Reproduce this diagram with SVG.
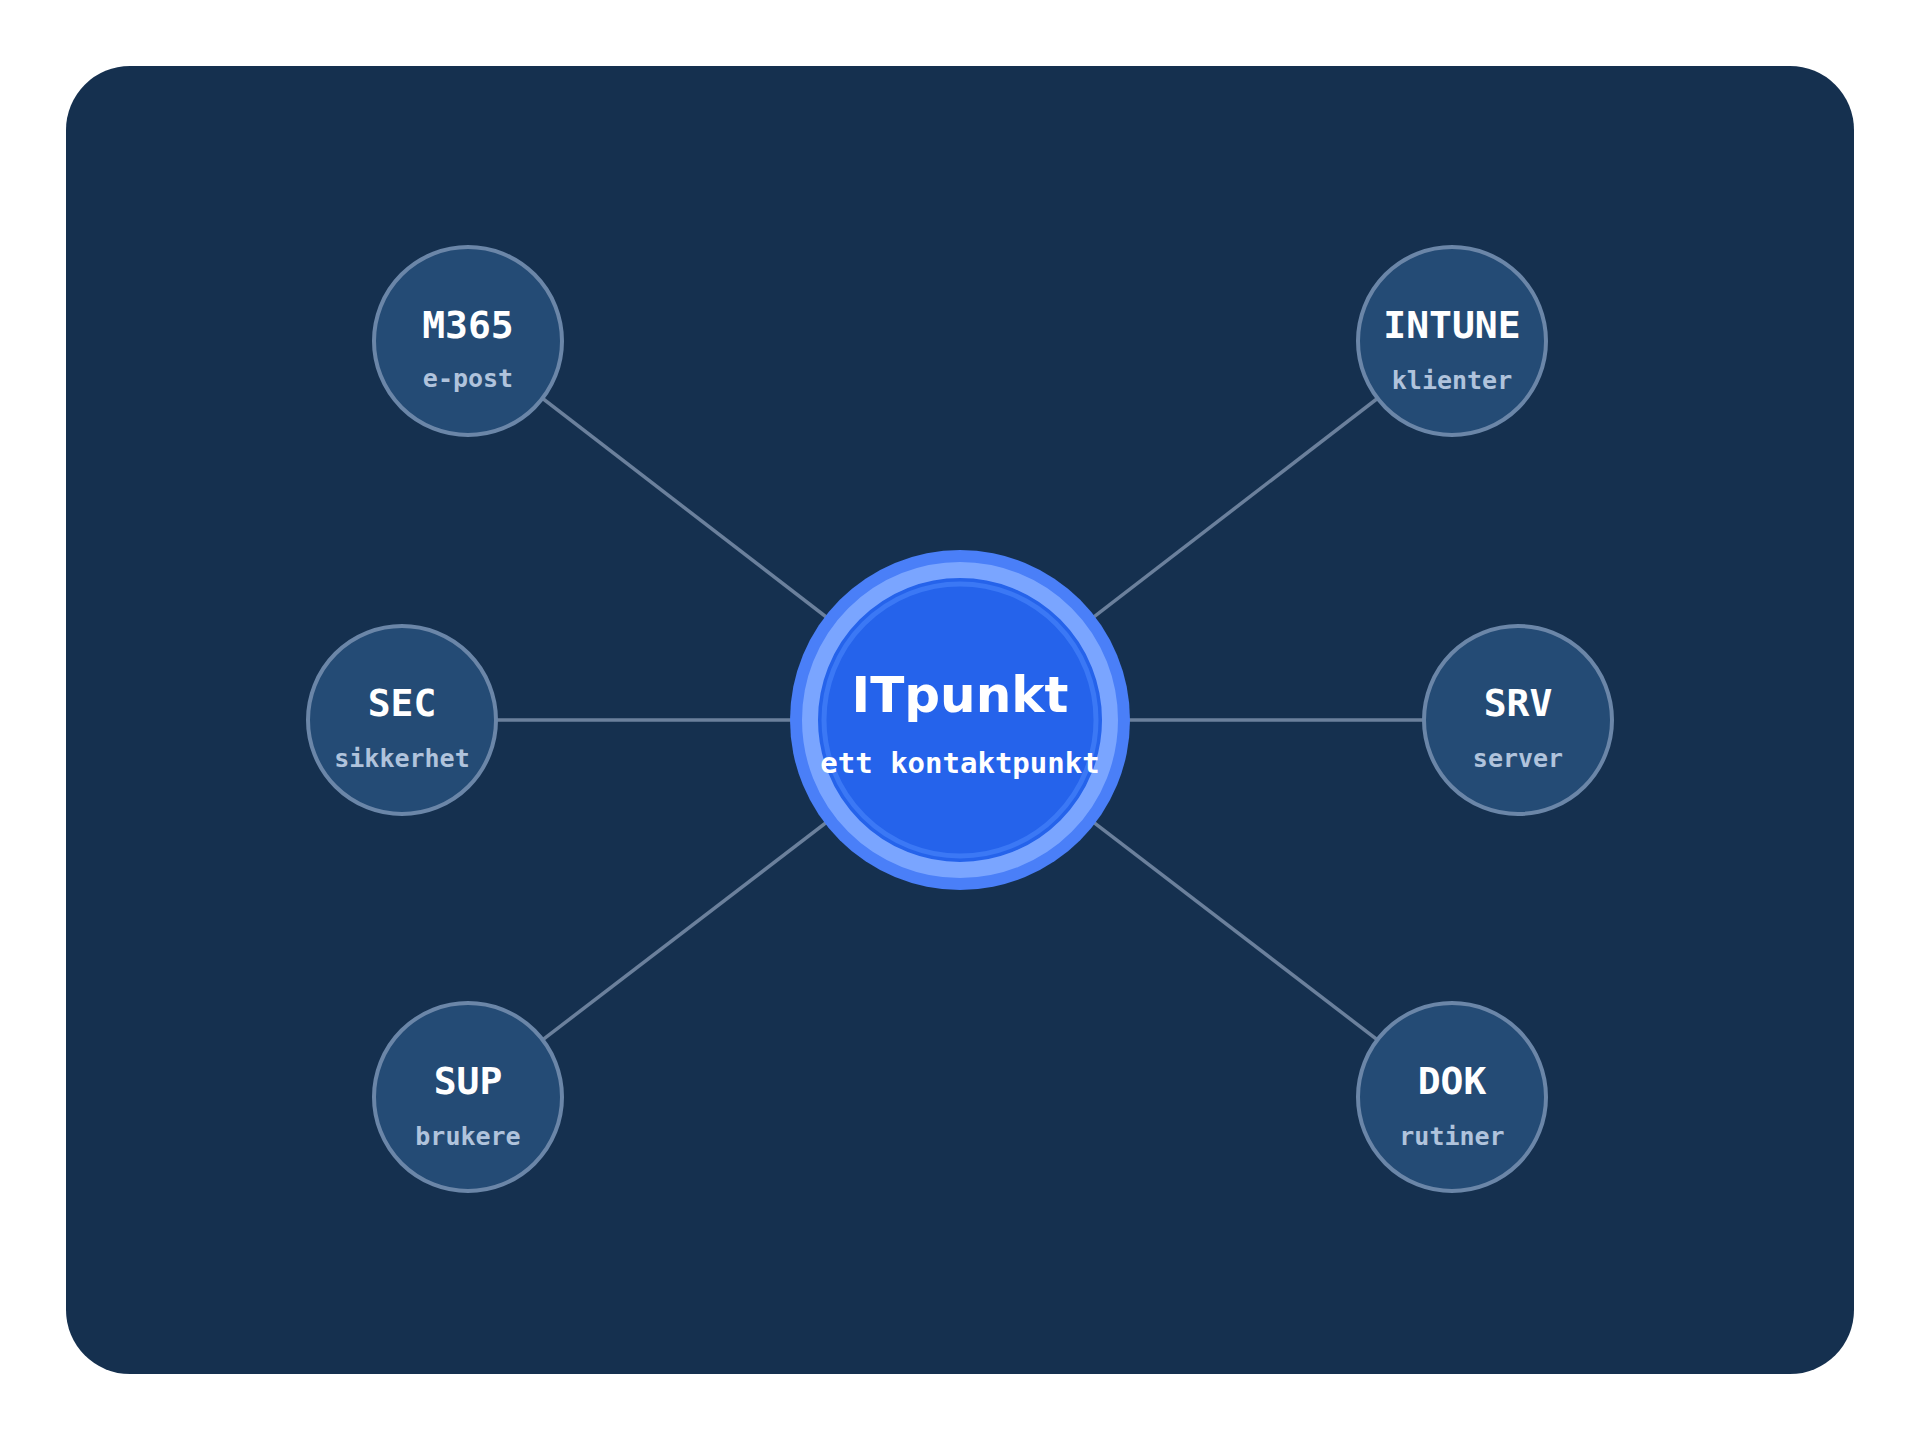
<svg xmlns="http://www.w3.org/2000/svg" width="1920" height="1440" viewBox="0 0 1920 1440">
<style>
.node circle{fill:#244b75;stroke:#6b86a8;stroke-width:4}
.t{font-family:"DejaVu Sans Mono","Liberation Mono",monospace;font-weight:bold;text-anchor:middle}
.title{font-size:38px;fill:#ffffff}
.sub{font-size:25px;fill:#b0c3dc}
.conn line{stroke:#6b809c;stroke-width:3.5}
</style>
<rect x="0" y="0" width="1920" height="1440" fill="#ffffff"/>
<rect x="66" y="66" width="1788" height="1308" rx="64" ry="64" fill="#15304f"/>
<g id="connectors" class="conn">
<line x1="960" y1="720" x2="468" y2="341"/>
<line x1="960" y1="720" x2="1452" y2="341"/>
<line x1="960" y1="720" x2="402" y2="720"/>
<line x1="960" y1="720" x2="1518" y2="720"/>
<line x1="960" y1="720" x2="468" y2="1097"/>
<line x1="960" y1="720" x2="1452" y2="1097"/>
</g>
<g id="hub">
<circle cx="960" cy="720" r="170" fill="#4a7ff8"/>
<circle cx="960" cy="720" r="150" fill="#2563eb" stroke="#7aa5ff" stroke-width="16"/>
<circle cx="960" cy="720" r="136" fill="none" stroke="#3b78f5" stroke-width="5"/>
<text x="960" y="712" text-anchor="middle" font-family="DejaVu Sans,Liberation Sans,sans-serif" font-weight="bold" font-size="50" fill="#ffffff">ITpunkt</text>
<text x="960" y="773" class="t" font-size="29" fill="#ffffff">ett kontaktpunkt</text>
</g>
<g id="m365" class="node"><circle cx="468" cy="341" r="94"/><text class="t title" x="468" y="338">M365</text><text class="t sub" x="468" y="387">e-post</text></g>
<g id="intune" class="node"><circle cx="1452" cy="341" r="94"/><text class="t title" x="1452" y="338">INTUNE</text><text class="t sub" x="1452" y="389">klienter</text></g>
<g id="sec" class="node"><circle cx="402" cy="720" r="94"/><text class="t title" x="402" y="716">SEC</text><text class="t sub" x="402" y="767">sikkerhet</text></g>
<g id="srv" class="node"><circle cx="1518" cy="720" r="94"/><text class="t title" x="1518" y="716">SRV</text><text class="t sub" x="1518" y="767">server</text></g>
<g id="sup" class="node"><circle cx="468" cy="1097" r="94"/><text class="t title" x="468" y="1094">SUP</text><text class="t sub" x="468" y="1145">brukere</text></g>
<g id="dok" class="node"><circle cx="1452" cy="1097" r="94"/><text class="t title" x="1452" y="1094">DOK</text><text class="t sub" x="1452" y="1145">rutiner</text></g>
</svg>
